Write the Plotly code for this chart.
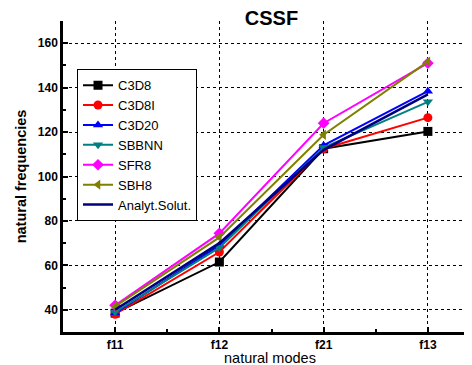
import plotly.graph_objects as go

modes = ["f11", "f12", "f21", "f13"]
c3d8 = [38.5, 61.5, 112.5, 120.3]
c3d8i = [38.0, 66.0, 112.5, 126.5]
c3d20 = [38.5, 69.0, 114.0, 138.4]
sbbnn = [39.0, 68.0, 113.0, 133.6]
sfr8 = [42.0, 74.4, 124.0, 151.0]
sbh8 = [41.5, 72.6, 118.8, 151.7]
analyt = [40.0, 70.0, 112.0, 137.0]

series = [
    ("C3D8", c3d8, "#000000", "square"),
    ("C3D8I", c3d8i, "#ff0000", "circle"),
    ("C3D20", c3d20, "#0000ff", "triangle-up"),
    ("SBBNN", sbbnn, "#008080", "triangle-down"),
    ("SFR8", sfr8, "#ff00ff", "diamond"),
    ("SBH8", sbh8, "#808000", "triangle-left"),
]

fig = go.Figure()
xs = list(range(len(modes)))
for name, vals, col, sym in series:
    fig.add_trace(go.Scatter(
        x=xs, y=vals, name=name, mode="lines+markers",
        line=dict(color=col, width=2),
        marker=dict(symbol=sym, size=9, color=col),
    ))
fig.add_trace(go.Scatter(
    x=xs, y=analyt, name="Analyt.Solut.", mode="lines",
    line=dict(color="#000080", width=2.5),
))

font = "Liberation Sans, Arial, sans-serif"
# note: the page body adds an 8px offset, margins compensate for it
fig.update_layout(
    width=472, height=365,
    margin=dict(l=55, r=0, t=13, b=41, autoexpand=False),
    paper_bgcolor="white", plot_bgcolor="white",
    font=dict(family=font, color="black"),
    title=dict(text="<b>CSSF</b>", x=0.5, xref="paper", xanchor="center",
               y=0.973, yref="container", yanchor="middle",
               font=dict(size=20, family=font, color="black")),
    legend=dict(x=0.0336, y=0.845, xanchor="left", yanchor="top",
                bgcolor="white", bordercolor="black", borderwidth=1,
                font=dict(size=13, family=font), itemwidth=30,
                tracegroupgap=0),
    showlegend=True,
    annotations=[dict(text="natural modes", xref="paper", yref="paper",
                      x=0.497, y=0, xanchor="center", yanchor="top",
                      yshift=-16, showarrow=False,
                      font=dict(size=14.5, family=font, color="black"))],
)
fig.update_xaxes(
    range=[-0.5, 3.5], tickmode="array", tickvals=xs, ticktext=modes,
    showline=True, linecolor="black", linewidth=2.5,
    showgrid=True, gridcolor="black", gridwidth=1.2, griddash="3px,3px",
    ticks="inside", ticklen=5, tickcolor="black", tickwidth=1.5,
    minor=dict(tickvals=[0.5, 1.5, 2.5], ticks="inside", ticklen=3, tickcolor="black", showgrid=False),
    tickfont=dict(size=12, family=font, weight="bold"),
    zeroline=False,
)
fig.update_yaxes(
    range=[30, 170], tickmode="linear", tick0=40, dtick=20,
    showline=True, linecolor="black", linewidth=2.5,
    showgrid=True, gridcolor="black", gridwidth=1.2, griddash="3px,3px",
    ticks="inside", ticklen=5, tickcolor="black", tickwidth=1.5,
    minor=dict(dtick=10, tick0=30, ticks="inside", ticklen=3, tickcolor="black", showgrid=False),
    tickfont=dict(size=12, family=font, weight="bold"),
    title=dict(text="<b>natural frequencies</b>", font=dict(size=14.5, family=font), standoff=8),
    zeroline=False,
)
fig.write_html("out.html")
